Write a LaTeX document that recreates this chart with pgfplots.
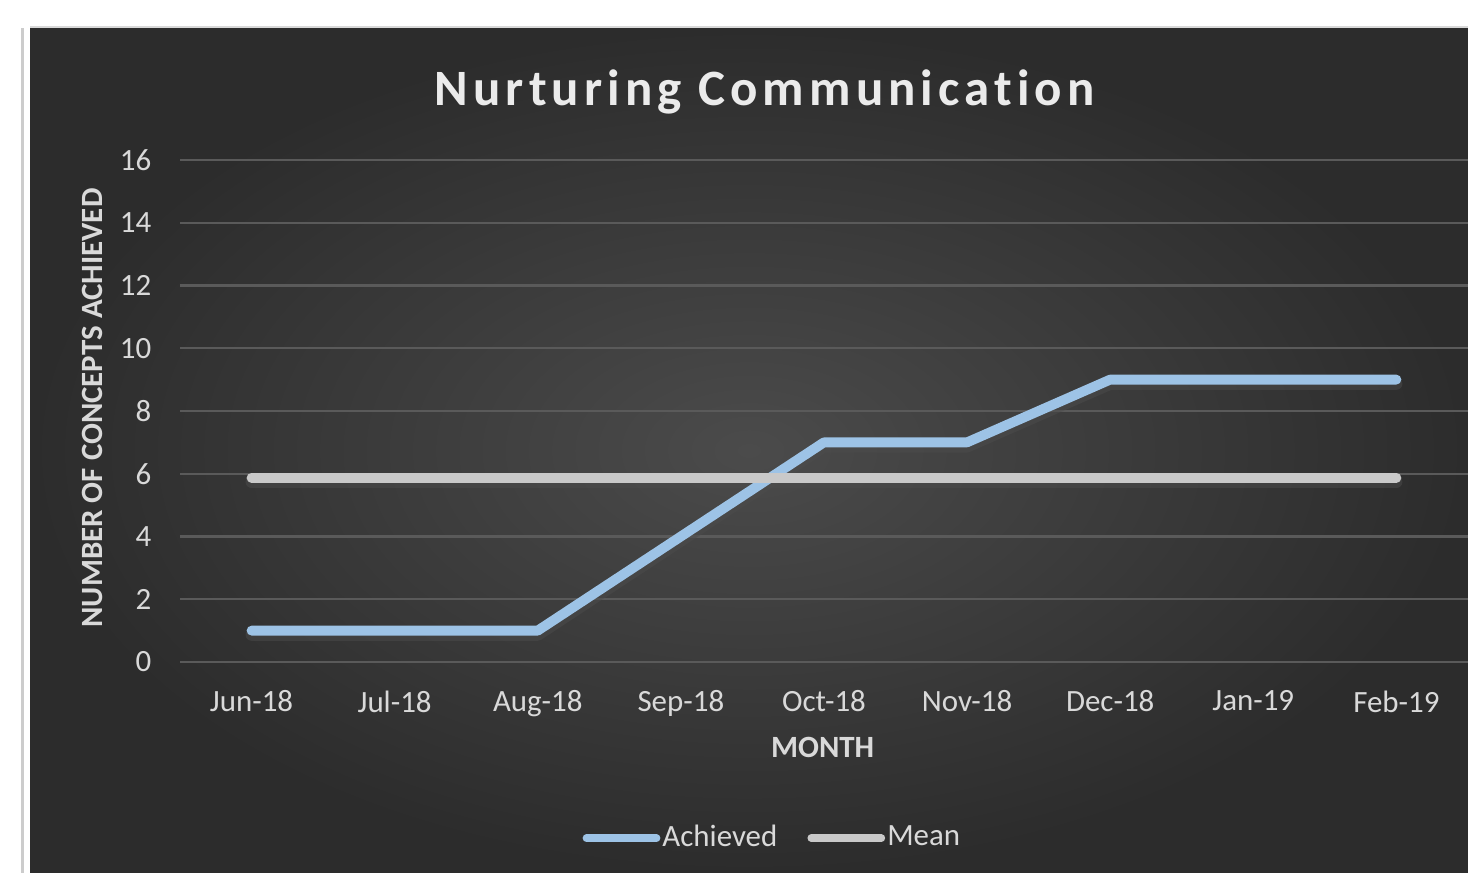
\documentclass[border=0pt]{standalone}
\usepackage{pgfplots}
\pgfplotsset{compat=1.18}
\usepackage{fontspec}
\setmainfont{Carlito}[Ligatures={NoCommon}]
\newfontfamily\titlefont[LetterSpace=10, Ligatures={NoCommon}]{Carlito}
\definecolor{bgIn}{HTML}{4B4B4B}
\definecolor{bgOut}{HTML}{2C2C2C}
\definecolor{gridc}{HTML}{5A5A5A}
\definecolor{txt}{HTML}{D9D9D9}
\definecolor{achc}{HTML}{9DC3E6}
\definecolor{meanc}{HTML}{C9C9C9}
\begin{document}
\begin{tikzpicture}[x=1cm,y=1cm]
\useasboundingbox (0,0) rectangle (14.68,8.73);
\fill[white] (0,0) rectangle (14.68,8.73);
\shade[inner color=bgIn, outer color=bgOut] (0.30,0) rectangle (14.68,8.45);
\draw[gray!40, line width=0.6pt] (0.225,0) -- (0.225,8.45);
\draw[gray!30, line width=0.5pt] (0.30,8.46) -- (14.68,8.46);
\begin{axis}[
  at={(1.80cm,2.11cm)}, anchor=south west,
  scale only axis, width=12.88cm, height=5.02cm,
  xmin=-0.5, xmax=8.5, ymin=0, ymax=16,
  xtick={0,...,8},
  xticklabels={Jun-18,Jul-18,Aug-18,Sep-18,Oct-18,Nov-18,Dec-18,Jan-19,Feb-19},
  ytick={0,2,...,16},
  axis line style={draw=none},
  major tick length=0pt,
  ymajorgrids, grid style={gridc, line width=0.6pt},
  /pgf/number format/assume math mode=true,
  tick label style={font=\fontsize{8.8}{10}\selectfont, text=txt},
  yticklabel style={anchor=east, inner sep=0pt, xshift=-0.28cm},
  xticklabel style={anchor=north, inner sep=0pt, yshift=-0.28cm},
  title={\titlefont\bfseries Nurturing Communication},
  title style={at={(axis description cs:0.454,1.093)}, anchor=center, yshift=0pt, font=\fontsize{14.5}{16}\selectfont, text=white!92!black},
  xlabel={MONTH},
  xlabel style={at={(axis description cs:0.499,-0.171)}, anchor=center, font=\fontsize{8.8}{10}\selectfont\bfseries, text=txt},
  ylabel={NUMBER OF CONCEPTS ACHIEVED},
  ylabel style={at={(axis description cs:-0.0683,0.506)}, anchor=center, rotate=0, font=\fontsize{8.8}{10}\selectfont\bfseries, text=txt},
  legend columns=2,
  legend style={at={(axis description cs:0.46,-0.351)}, anchor=center, draw=none, fill=none, text=txt, font=\fontsize{8.8}{10}\selectfont, inner sep=0pt, nodes={inner sep=0.6pt}, /tikz/every even column/.append style={column sep=0.28cm}},
  legend image code/.code={\draw[#1, line width=2.2pt] (0cm,0cm) -- (0.70cm,0cm);},
  clip=false,
]
% shadows
\addplot[black!70, opacity=0.5, line width=3.4pt, line cap=round, line join=round, forget plot, yshift=-1.2pt] coordinates {(0,1) (1,1) (2,1) (3,4) (4,7) (5,7) (6,9) (7,9) (8,9)};
\addplot[black!70, opacity=0.5, line width=3.4pt, line cap=round, forget plot, yshift=-1.2pt] coordinates {(0,5.875) (8,5.875)};
\addplot[achc, line width=2.8pt, line cap=round, line join=round] coordinates {(0,1) (1,1) (2,1) (3,4) (4,7) (5,7) (6,9) (7,9) (8,9)};
\addlegendentry{Achieved}
\addplot[meanc, line width=2.8pt, line cap=round] coordinates {(0,5.875) (1,5.875) (2,5.875) (3,5.875) (4,5.875) (5,5.875) (6,5.875) (7,5.875) (8,5.875)};
\addlegendentry{Mean}
\end{axis}
\end{tikzpicture}
\end{document}
